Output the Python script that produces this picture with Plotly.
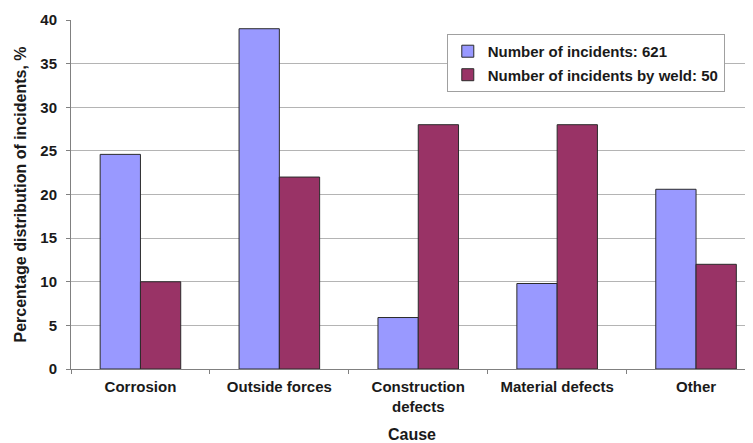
import plotly.graph_objects as go

categories = ["Corrosion", "Outside forces", "Construction<br>defects", "Material defects", "Other"]
incidents_all = [24.6, 39.0, 5.9, 9.8, 20.6]
incidents_weld = [10.0, 22.0, 28.0, 28.0, 12.0]
series_names = ["Number of incidents: 621", "Number of incidents by weld: 50"]
y_ticks = [0, 5, 10, 15, 20, 25, 30, 35, 40]

FONT = "Liberation Sans, Arial, sans-serif"
TXT = "#1a1a1a"

fig = go.Figure()
fig.add_trace(go.Bar(
    x=categories, y=incidents_all, name=series_names[0],
    marker=dict(color="#9999FF", line=dict(color="#2b2b2b", width=1)),
    legendgroup="a",
))
fig.add_trace(go.Bar(
    x=categories, y=incidents_weld, name=series_names[1],
    marker=dict(color="#993366", line=dict(color="#2b2b2b", width=1)),
    legendgroup="b",
))

fig.update_layout(
    width=745, height=435,
    margin=dict(l=63, r=0, t=12, b=74),
    paper_bgcolor="white", plot_bgcolor="white",
    barmode="group", bargap=0.42, bargroupgap=0,
    font=dict(family=FONT, color=TXT, size=15),
    showlegend=True,
    legend=dict(
        x=0.551, y=0.96, xanchor="left", yanchor="top",
        bgcolor="white", bordercolor="#a0a0a0", borderwidth=1,
        font=dict(family=FONT, size=15, weight="bold", color=TXT),
        tracegroupgap=1, itemwidth=30,
    ),
    xaxis=dict(
        range=[-0.5, 4.41], automargin=False,
        showline=True, linecolor="#808080", linewidth=1,
        ticks="outside", ticklen=4, tickcolor="#808080", tickson="boundaries",
        ticklabelstandoff=4,
        tickfont=dict(family=FONT, size=15, weight="bold", color=TXT),
        title=dict(text="Cause", font=dict(family=FONT, size=16, weight="bold", color=TXT), standoff=21),
        showgrid=False,
    ),
    yaxis=dict(
        range=[0, 40], tickvals=y_ticks, automargin=False,
        showline=True, linecolor="#808080", linewidth=1,
        ticks="outside", ticklen=4, tickcolor="#808080",
        ticklabelstandoff=6,
        showgrid=True, gridcolor="#b4b4b4", gridwidth=1,
        tickfont=dict(family=FONT, size=15, weight="bold", color=TXT),
        title=dict(text="Percentage distribution of incidents, %", font=dict(family=FONT, size=16, weight="bold", color=TXT), standoff=9),
        zeroline=False,
    ),
)

fig.write_html("out.html")
